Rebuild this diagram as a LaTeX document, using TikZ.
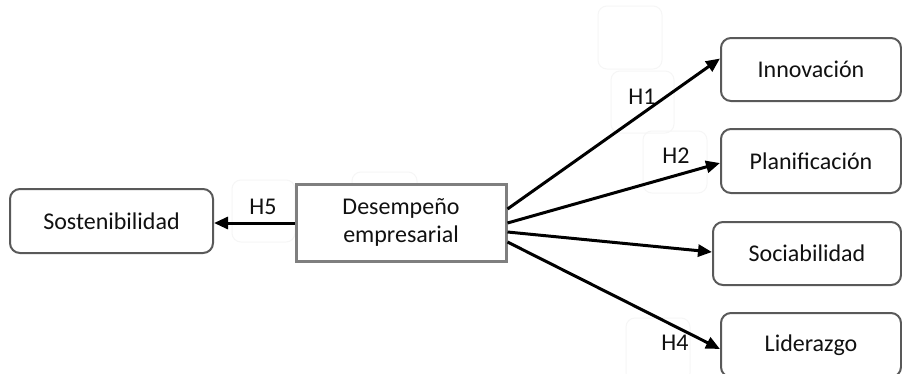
\documentclass[tikz,border=0pt]{standalone}
\usepackage{fontspec}
\setmainfont{Carlito}
\usetikzlibrary{arrows.meta}
\definecolor{boxgray}{HTML}{595959}
\definecolor{mainbox}{HTML}{7F7F7F}
\definecolor{txt}{HTML}{111111}
\definecolor{ghost}{HTML}{F6F6F6}
\tikzset{
  concept/.style={draw=boxgray, line width=2pt, rounded corners=10pt, fill=white,
    inner sep=0pt, text=txt, font=\fontsize{24}{28}\selectfont},
  mainconcept/.style={draw=mainbox, line width=3pt, fill=white, inner sep=0pt,
    text=txt, align=center, font=\fontsize{24}{28}\selectfont},
  hyp/.style={text=txt, inner sep=0pt, font=\fontsize{24}{28}\selectfont},
  ghostbox/.style={draw=ghost, line width=1pt, rounded corners=9pt},
  link/.style={line width=3pt, black, -{Triangle[length=14pt,width=12pt]}}
}
\begin{document}
\begin{tikzpicture}[x=1pt,y=-1pt]
\clip (0,0) rectangle (902,373);
\fill[white] (0,0) rectangle (902,373);
% faint label frames
\draw[ghostbox] (598,6) rectangle (662,69);
\draw[ghostbox] (611,71) rectangle (674,133);
\draw[ghostbox] (643,131) rectangle (707,193);
\draw[ghostbox] (232,180) rectangle (295,242);
\draw[ghostbox] (352,172) rectangle (417,236);
\draw[ghostbox] (626,318) rectangle (690,382);
% nodes
\node[concept, minimum width=203pt, minimum height=64pt] (sos) at (111.5,221) {Sostenibilidad};
\node[mainconcept, minimum width=210pt, minimum height=77pt] (des) at (401,222.5) {Desempeño\\empresarial};
\node[concept, minimum width=180pt, minimum height=63pt] (inn) at (811,69.5) {Innovación};
\node[concept, minimum width=180pt, minimum height=64pt] (pla) at (811,161) {Planificación};
\node[concept, minimum width=188pt, minimum height=63pt] (soc) at (807,253.5) {Sociabilidad};
\node[concept, minimum width=180pt, minimum height=64pt] (lid) at (811,345) {Liderazgo};
% labels
\node[hyp] (h1) at (642,97) {H1};
\node[hyp] (h2) at (676,156) {H2};
\node[hyp] (h4) at (675,343) {H4};
\node[hyp] (h5) at (263,207) {H5};
% connectors
\draw[link] ([yshift=13.5pt]des.east) -- ([yshift=11pt]inn.west);
\draw[link] ([yshift=-0.5pt]des.east) -- ([yshift=-2pt]pla.west);
\draw[link] ([yshift=-9.5pt]des.east) -- ([yshift=1.5pt]soc.west);
\draw[link] ([yshift=-19.5pt]des.east) -- ([yshift=-4pt]lid.west);
\draw[link] ([yshift=-0.5pt]des.west) -- ([yshift=-0.5pt]des.west -| sos.east);
\end{tikzpicture}
\end{document}
